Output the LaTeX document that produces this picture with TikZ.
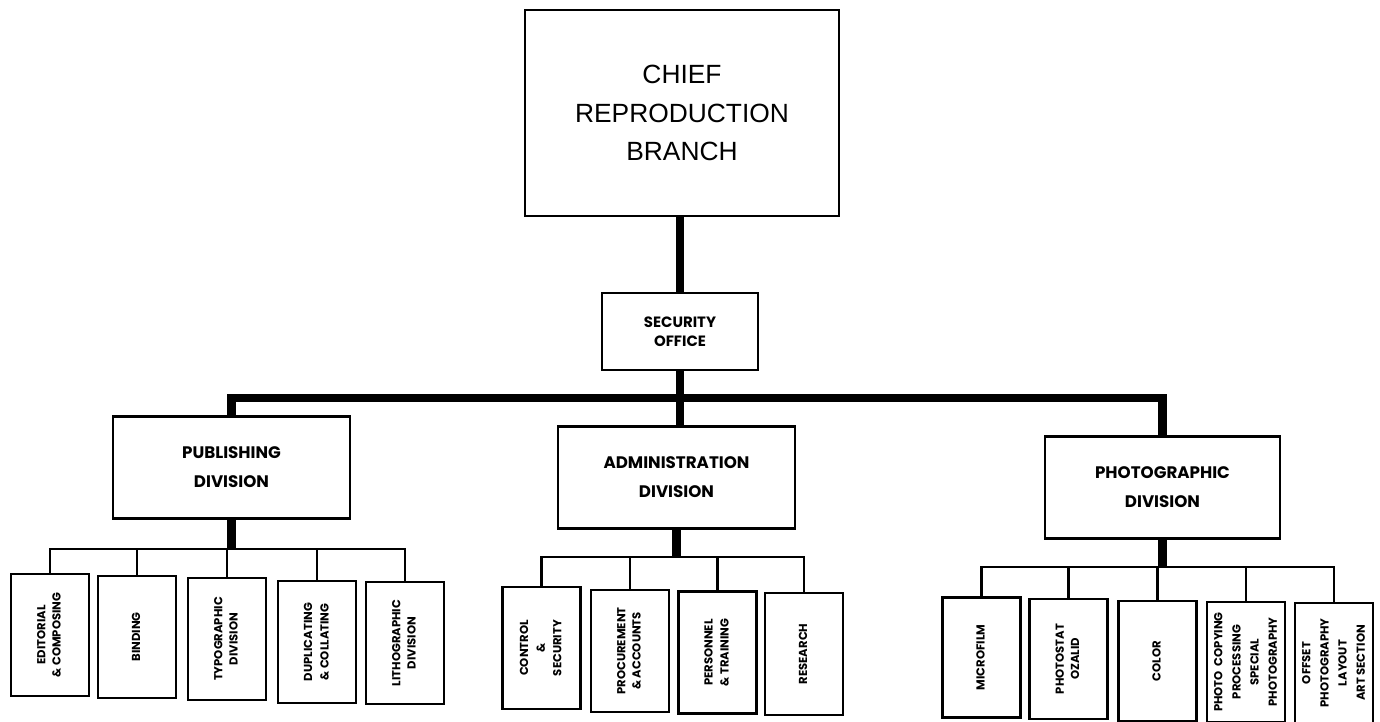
\documentclass[tikz,border=0pt]{standalone}
\usepackage{fontspec}
\setmainfont{Liberation Sans}
\newfontfamily\orgfont{Poppins}
\usepackage{tikz}
\newcommand{\vlabel}[2][1]{\rotatebox{90}{\renewcommand{\arraystretch}{#1}\begin{tabular}{@{}c@{}}#2\end{tabular}}}
\tikzset{
  box/.style={draw, line width=1.2pt, inner sep=0pt, align=center},
  division/.style={box, minimum width=4.74cm, minimum height=2.04cm,
    font=\orgfont\bfseries\fontsize{9.5}{16.5}\selectfont},
  unit/.style={box, minimum width=1.56cm, minimum height=2.44cm,
    font=\orgfont\bfseries\fontsize{6.6}{8.6}\selectfont},
  trunk/.style={line width=5pt},
  twig/.style={line width=1.2pt}
}

\begin{document}
\begin{tikzpicture}[x=0.02cm, y=-0.02cm]
    \useasboundingbox (0,0) rectangle (1380,721);
    \node[box, minimum width=6.28cm, minimum height=4.12cm, font=\fontsize{15}{22}\selectfont] (chief) at (682,113){CHIEF\\REPRODUCTION\\BRANCH};
    \node[box, minimum width=3.12cm, minimum height=1.54cm, font=\orgfont\bfseries\fontsize{8.5}{10.8}\selectfont] (sec) at (680,331.5){SECURITY\\OFFICE};
    \node[division] (pub) at (231.5,467.5){PUBLISHING\\DIVISION};
    \node[division] (adm) at (676.5,477.5){ADMINISTRATION\\DIVISION};
    \node[division, minimum width=4.7cm] (pho) at (1162.5,487.5){PHOTOGRAPHIC\\DIVISION};
    \coordinate (bus) at (680,398);
    \draw[trunk] (sec.north) -- (sec.north |- chief.south);
    \draw[trunk] (sec.south) -- (sec.south |- adm.north);
    \draw[trunk] (pub.north) |- (bus) -| (pho.north);

    \node[unit] (ed) at (50,635){\vlabel{EDITORIAL\\\& COMPOSING}};
    \node[unit] (bi) at (137,637){\vlabel{BINDING}};
    \node[unit] (ty) at (227,639){\vlabel{TYPOGRAPHIC\\DIVISION}};
    \node[unit] (du) at (317,642){\vlabel[1.1]{DUPLICATING\\\& COLLATING}};
    \node[unit] (li) at (405,643){\vlabel{LITHOGRAPHIC\\DIVISION}};
    \coordinate (pubbus) at (232,549);
    \draw[trunk] (pub.south) -- (pub.south |- pubbus);
    \draw[twig] (ed.north) |- (li.north |- pubbus) -- (li.north);
    \foreach \n in {bi,ty,du}
      \draw[twig] (\n.north) -- (\n.north |- pubbus);

    \node[unit] (co) at (541.5,648){\vlabel[1.1]{CONTROL\\\&\\SECURITY}};
    \node[unit] (pr) at (630,651){\vlabel{PROCUREMENT\\\& ACCOUNTS}};
    \node[unit] (pe) at (717.5,652.5){\vlabel[1.05]{PERSONNEL\\\& TRAINING}};
    \node[unit] (re) at (804,654){\vlabel{RESEARCH}};
    \coordinate (admbus) at (677,557);
    \draw[trunk] (adm.south) -- (adm.south |- admbus);
    \draw[twig] (co.north) |- (re.north |- admbus) -- (re.north);
    \foreach \n in {pr,pe}
      \draw[twig] (\n.north) -- (\n.north |- admbus);

    \node[unit, minimum height=2.4cm] (mi) at (981.5,657.5){\vlabel{MICROFILM}};
    \node[unit, minimum height=2.4cm] (ps) at (1068.5,659){\vlabel{PHOTOSTAT\\OZALID}};
    \node[unit, minimum height=2.4cm] (cl) at (1157.5,661){\vlabel{COLOR}};
    \node[unit, minimum height=2.4cm] (pc) at (1246,662){\vlabel[1.2]{PHOTO~~COPYING\\PROCESSING\\SPECIAL\\PHOTOGRAPHY}};
    \node[unit, minimum height=2.4cm] (os) at (1334,663){\vlabel[1.2]{OFFSET\\PHOTOGRAPHY\\LAYOUT\\ART SECTION}};
    \coordinate (phobus) at (1160,567);
    \draw[trunk] (pho.south) -- (pho.south |- phobus);
    \draw[twig] (mi.north) |- (os.north |- phobus) -- (os.north);
    \foreach \n in {ps,cl,pc}
      \draw[twig] (\n.north) -- (\n.north |- phobus);
  \end{tikzpicture}
\end{document}
